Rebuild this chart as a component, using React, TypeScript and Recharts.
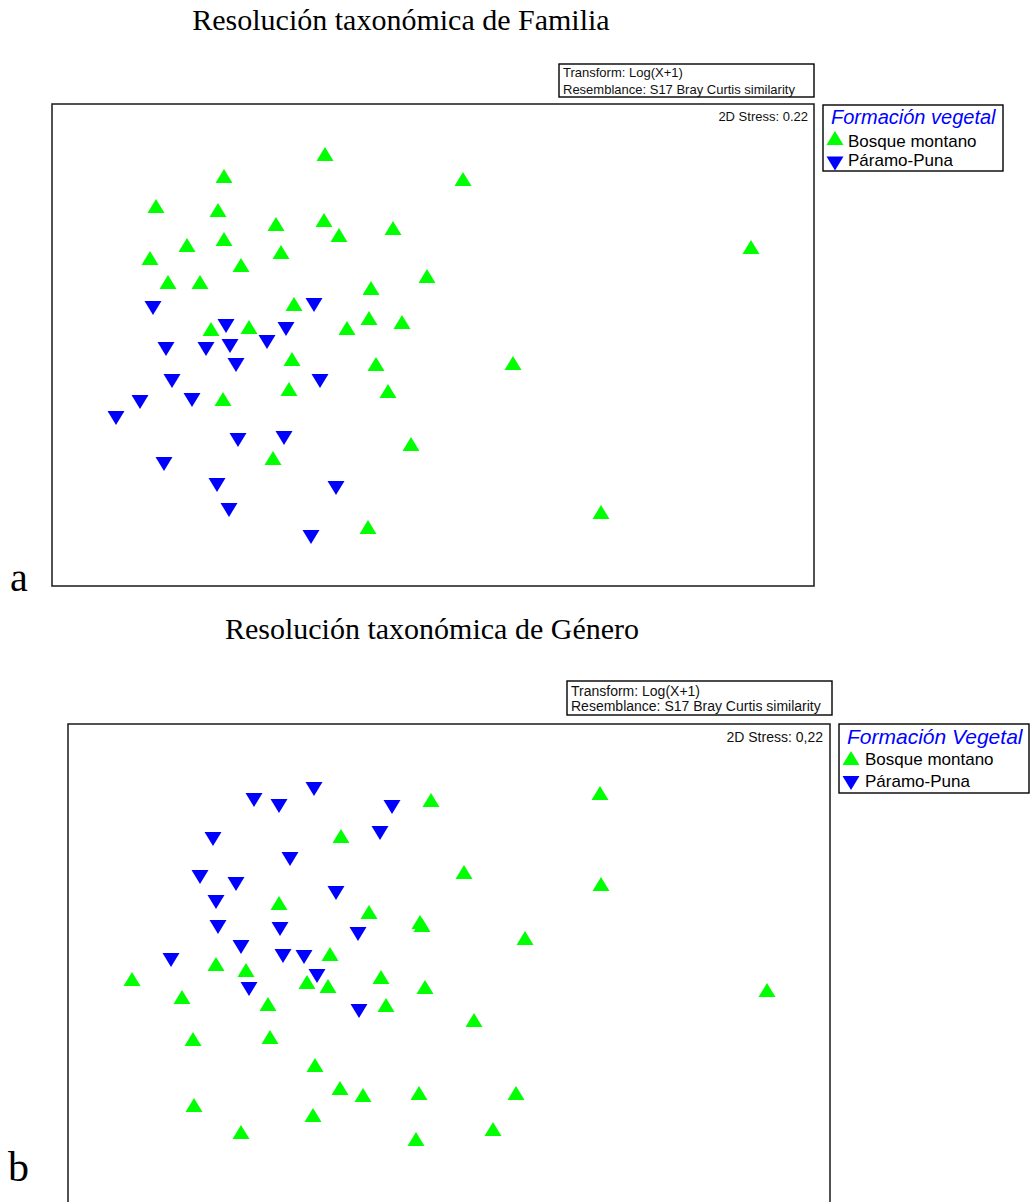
import React from "react";
import { ScatterChart, Scatter, XAxis, YAxis, ReferenceArea } from "recharts";

// NMDS ordination (Log(X+1), Bray-Curtis), one point per site: [MDS1, MDS2]
const familiaBosque: [number, number][] = [
  [-1.08, 1.91], [-2.09, 1.69], [-2.77, 1.39], [-2.15, 1.35], [-1.57, 1.21],
  [-1.09, 1.25], [-0.94, 1.1], [-0.4, 1.17], [-2.46, 1.0], [-2.09, 1.06],
  [-1.52, 0.93], [-2.83, 0.87], [-1.92, 0.8], [-2.65, 0.63], [-2.33, 0.63],
  [-0.06, 0.69], [-0.62, 0.57], [-1.39, 0.41], [-0.64, 0.27], [-0.31, 0.23],
  [-0.86, 0.17], [-2.22, 0.16], [-1.84, 0.18], [-1.41, -0.14], [-0.57, -0.19],
  [-1.44, -0.44], [-0.45, -0.46], [-2.1, -0.54], [-0.22, -0.99], [-1.6, -1.13],
  [-0.65, -1.82], [0.3, 1.66], [3.18, 0.98], [0.8, -0.18], [1.68, -1.67],
];
const familiaParamo: [number, number][] = [
  [-2.8, 0.37], [-1.19, 0.4], [-2.07, 0.19], [-1.47, 0.16], [-1.66, 0.03],
  [-2.67, -0.04], [-2.27, -0.04], [-2.03, -0.01], [-1.97, -0.2], [-2.61, -0.36],
  [-1.13, -0.36], [-2.93, -0.57], [-2.41, -0.55], [-3.17, -0.73], [-1.95, -0.95],
  [-1.49, -0.93], [-2.69, -1.19], [-2.16, -1.4], [-0.97, -1.43], [-2.04, -1.65],
  [-1.22, -1.92],
];
const generoBosque: [number, number][] = [
  [-0.18, 1.65], [-1.08, 1.29], [-1.7, 0.62], [-0.8, 0.53], [-0.29, 0.43],
  [-0.27, 0.4], [-1.19, 0.11], [-2.33, 0.01], [-2.03, -0.05], [-3.17, -0.14],
  [-1.42, -0.17], [-1.21, -0.21], [-0.68, -0.12], [-0.24, -0.22], [-2.67, -0.32],
  [-1.81, -0.39], [-0.63, -0.4], [-2.56, -0.74], [-1.79, -0.72], [-1.34, -1.0],
  [-1.09, -1.23], [-0.86, -1.3], [-0.3, -1.28], [-2.55, -1.4], [-1.36, -1.5],
  [-2.08, -1.67], [-0.33, -1.74], [1.51, 1.72], [0.15, 0.93], [1.52, 0.81],
  [0.76, 0.27], [3.18, -0.25], [0.25, -0.55], [0.67, -1.28], [0.44, -1.64],
];
const generoParamo: [number, number][] = [
  [-1.95, 1.65], [-1.7, 1.59], [-1.35, 1.76], [-0.57, 1.58], [-2.36, 1.26],
  [-0.69, 1.32], [-1.59, 1.06], [-2.49, 0.88], [-2.13, 0.81], [-1.13, 0.72],
  [-2.33, 0.63], [-2.31, 0.38], [-1.69, 0.36], [-0.91, 0.31], [-2.08, 0.18],
  [-1.66, 0.09], [-1.45, 0.08], [-2.78, 0.05], [-1.32, -0.11], [-2.0, -0.24],
  [-0.9, -0.46],
];

const groups = ["Bosque montano", "Páramo-Puna"];
const stressLabels = ["2D Stress: 0.22", "2D Stress: 0,22"];
const legendTitles = ["Formación vegetal", "Formación Vegetal"];
const titles = ["Resolución taxonómica de Familia", "Resolución taxonómica de Género"];

const X_DOMAIN: [number, number] = [-3.81, 3.81];
const Y_DOMAIN: [number, number] = [-2.41, 2.41];
const PLOT_W = 762;
const PLOT_H = 482;

const GREEN = "#00ff00";
const BLUE = "#0000ff";
const SANS = "'Liberation Sans', Arial, sans-serif";
const SERIF = "'Liberation Serif', 'Times New Roman', serif";

const toPoints = (arr: [number, number][]) => arr.map(([x, y]) => ({ x, y }));

function upPath(cx: number, cy: number, w = 17, h = 14) {
  return `${cx},${cy - h / 2} ${cx - w / 2},${cy + h / 2} ${cx + w / 2},${cy + h / 2}`;
}
function downPath(cx: number, cy: number, w = 17, h = 14) {
  return `${cx - w / 2},${cy - h / 2} ${cx + w / 2},${cy - h / 2} ${cx},${cy + h / 2}`;
}

const TriUp = (props: any) => <polygon points={upPath(props.cx, props.cy)} fill={GREEN} />;
const TriDown = (props: any) => <polygon points={downPath(props.cx, props.cy)} fill={BLUE} />;

function NmdsPlot({
  left,
  top,
  bosque,
  paramo,
}: {
  left: number;
  top: number;
  bosque: [number, number][];
  paramo: [number, number][];
}) {
  return (
    <div style={{ position: "absolute", left: left - 1, top: top - 1 }}>
      <ScatterChart
        width={PLOT_W + 2}
        height={PLOT_H + 2}
        margin={{ top: 1, right: 1, bottom: 1, left: 1 }}
      >
        <XAxis type="number" dataKey="x" domain={X_DOMAIN} hide allowDataOverflow />
        <YAxis type="number" dataKey="y" domain={Y_DOMAIN} hide allowDataOverflow />
        <ReferenceArea
          x1={X_DOMAIN[0]}
          x2={X_DOMAIN[1]}
          y1={Y_DOMAIN[0]}
          y2={Y_DOMAIN[1]}
          fill="none"
          fillOpacity={0}
          stroke="#1a1a1a"
          strokeWidth={1.5}
        />
        <Scatter name={groups[1]} data={toPoints(paramo)} shape={TriDown} isAnimationActive={false} />
        <Scatter name={groups[0]} data={toPoints(bosque)} shape={TriUp} isAnimationActive={false} />
      </ScatterChart>
    </div>
  );
}

// header boxes, stress value and legend drawn over each plot
function Annotations({
  info,
  stress,
  legend,
  fs,
}: {
  info: { x: number; y: number; w: number; h: number; b1: number; b2: number };
  stress: { x: number; y: number; text: string };
  legend: {
    x: number; y: number; w: number; h: number;
    title: string; titleSize: number; titleY: number;
    textX: number; y1: number; y2: number; markX: number; m1: number; m2: number;
  };
  fs: number;
}) {
  return (
    <g>
      <rect x={info.x} y={info.y} width={info.w} height={info.h} fill="#fff" stroke="#000" strokeWidth={1.4} />
      <text x={info.x + 4} y={info.b1} fontFamily={SANS} fontSize={fs} fill="#111">
        Transform: Log(X+1)
      </text>
      <text x={info.x + 4} y={info.b2} fontFamily={SANS} fontSize={fs} fill="#111">
        Resemblance: S17 Bray Curtis similarity
      </text>
      <text x={stress.x} y={stress.y} textAnchor="end" fontFamily={SANS} fontSize={fs} fill="#111">
        {stress.text}
      </text>
      <rect x={legend.x} y={legend.y} width={legend.w} height={legend.h} fill="#fff" stroke="#000" strokeWidth={1.4} />
      <text
        x={legend.x + 8}
        y={legend.titleY}
        fontFamily={SANS}
        fontStyle="italic"
        fontSize={legend.titleSize}
        fill={BLUE}
      >
        {legend.title}
      </text>
      <polygon points={upPath(legend.markX, legend.m1)} fill={GREEN} />
      <text x={legend.textX} y={legend.y1} fontFamily={SANS} fontSize={17} fill="#000">
        {groups[0]}
      </text>
      <polygon points={downPath(legend.markX, legend.m2)} fill={BLUE} />
      <text x={legend.textX} y={legend.y2} fontFamily={SANS} fontSize={17} fill="#000">
        {groups[1]}
      </text>
    </g>
  );
}

export default function App() {
  return (
    <div
      style={{
        position: "absolute",
        left: 0,
        top: 0,
        width: 1030,
        height: 1202,
        overflow: "hidden",
        background: "#fff",
      }}
    >
      <NmdsPlot left={52} top={104} bosque={familiaBosque} paramo={familiaParamo} />
      <NmdsPlot left={68} top={724} bosque={generoBosque} paramo={generoParamo} />

      <svg
        width={1030}
        height={1202}
        style={{ position: "absolute", left: 0, top: 0, pointerEvents: "none" }}
      >
        <text x={401} y={30} textAnchor="middle" fontFamily={SERIF} fontSize={30} fill="#000">
          {titles[0]}
        </text>
        <text x={432} y={639} textAnchor="middle" fontFamily={SERIF} fontSize={30} fill="#000">
          {titles[1]}
        </text>
        <text x={10} y={591} fontFamily={SERIF} fontSize={40} fill="#000">a</text>
        <text x={8} y={1181} fontFamily={SERIF} fontSize={42} fill="#000">b</text>

        <Annotations
          fs={13}
          info={{ x: 559, y: 64, w: 255, h: 33, b1: 77, b2: 93.5 }}
          stress={{ x: 808, y: 121, text: stressLabels[0] }}
          legend={{
            x: 823, y: 105, w: 180, h: 66,
            title: legendTitles[0], titleSize: 20, titleY: 123.5,
            textX: 848, y1: 146.5, y2: 166, markX: 835, m1: 138, m2: 163.5,
          }}
        />
        <Annotations
          fs={14}
          info={{ x: 567, y: 681, w: 265, h: 34, b1: 696, b2: 711 }}
          stress={{ x: 823, y: 742, text: stressLabels[1] }}
          legend={{
            x: 839, y: 724, w: 190, h: 69,
            title: legendTitles[1], titleSize: 21, titleY: 744,
            textX: 865, y1: 765, y2: 787, markX: 851, m1: 758, m2: 783,
          }}
        />
      </svg>
    </div>
  );
}
